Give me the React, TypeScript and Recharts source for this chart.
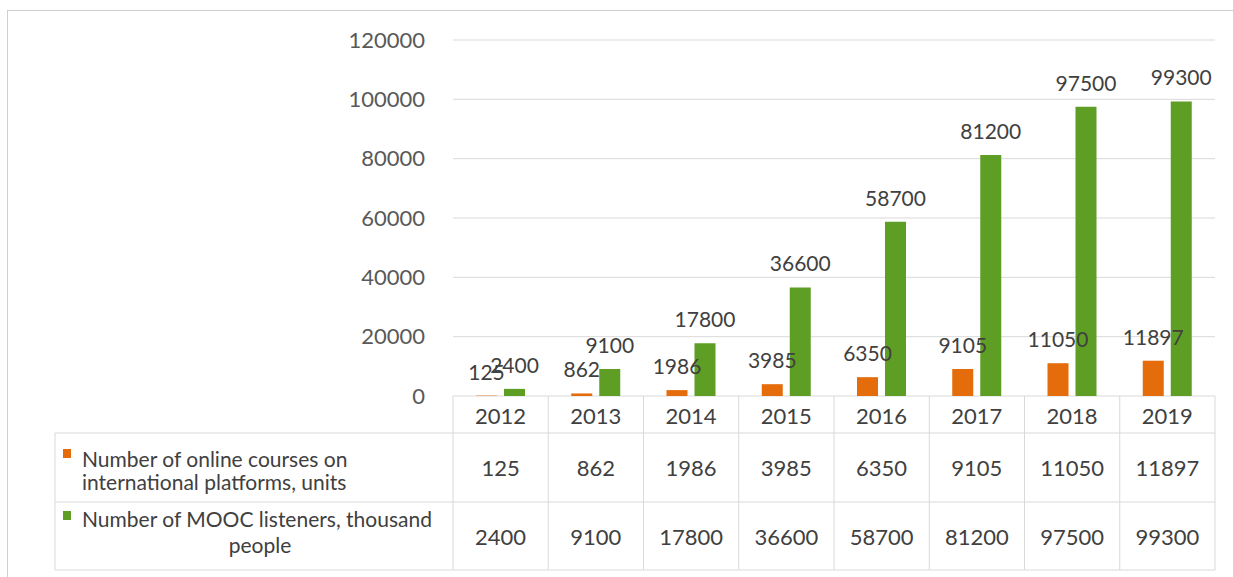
import { BarChart, Bar, XAxis, YAxis, CartesianGrid, LabelList } from 'recharts'

const YEARS = ['2012', '2013', '2014', '2015', '2016', '2017', '2018', '2019']
const COURSES = [125, 862, 1986, 3985, 6350, 9105, 11050, 11897]
const LISTENERS = [2400, 9100, 17800, 36600, 58700, 81200, 97500, 99300]
const Y_TICKS = [0, 20000, 40000, 60000, 80000, 100000, 120000]
const COURSES_LABEL = ['Number of online courses on', 'international platforms, units']
const LISTENERS_LABEL = ['Number of MOOC listeners, thousand', 'people']

const ORANGE = '#E46C0A'
const GREEN = '#5F9E24'
const GRID = '#d9d9d9'
const TEXT = '#404040'
const FONT = 'Lato, "Open Sans", sans-serif'

const W = 1233
const H = 577
const Y_WIDTH = 453
const RIGHT = 18
const X_HEIGHT = 181
const COL_W = (W - Y_WIDTH - RIGHT) / YEARS.length
const ROWS = [37, 69, 68] // header, courses, listeners
const LEGEND_LEFT = 55

const data = YEARS.map((year, i) => ({
  year,
  courses: COURSES[i],
  listeners: LISTENERS[i],
}))

// data table under the plot, one column per x tick
function TableTick(props: any) {
  const { x, y, payload, index } = props
  const left = x - COL_W / 2
  const right = x + COL_W / 2
  const r1 = y + ROWS[0]
  const r2 = r1 + ROWS[1]
  const r3 = r2 + ROWS[2]
  const vals = [COURSES[index], LISTENERS[index]]
  const last = index === YEARS.length - 1

  return (
    <g fontFamily={FONT}>
      <line x1={left} x2={left} y1={y} y2={r3} stroke={GRID} />
      {last && <line x1={right} x2={right} y1={y} y2={r3} stroke={GRID} />}
      <line x1={left} x2={right} y1={r1} y2={r1} stroke={GRID} />
      <line x1={left} x2={right} y1={r2} y2={r2} stroke={GRID} />
      <line x1={left} x2={right} y1={r3} y2={r3} stroke={GRID} />
      <text x={x} y={y + ROWS[0] / 2 + 1} textAnchor="middle" dominantBaseline="central" fontSize={22} fill={TEXT}>
        {payload.value}
      </text>
      <text x={x} y={r1 + ROWS[1] / 2} textAnchor="middle" dominantBaseline="central" fontSize={22} fill={TEXT}>
        {vals[0]}
      </text>
      <text x={x} y={r2 + ROWS[2] / 2} textAnchor="middle" dominantBaseline="central" fontSize={22} fill={TEXT}>
        {vals[1]}
      </text>

      {index === 0 && (
        <g>
          <line x1={LEGEND_LEFT} x2={left} y1={r1} y2={r1} stroke={GRID} />
          <line x1={LEGEND_LEFT} x2={left} y1={r2} y2={r2} stroke={GRID} />
          <line x1={LEGEND_LEFT} x2={left} y1={r3} y2={r3} stroke={GRID} />
          <line x1={LEGEND_LEFT} x2={LEGEND_LEFT} y1={r1} y2={r3} stroke={GRID} />

          <rect x={63} y={r1 + 16} width={8} height={9} fill={ORANGE} />
          <text x={82} y={r1 + 25} dominantBaseline="central" fontSize={21} fill={TEXT}>
            {COURSES_LABEL[0]}
          </text>
          <text x={82} y={r1 + 48} dominantBaseline="central" fontSize={21} fill={TEXT}>
            {COURSES_LABEL[1]}
          </text>

          <rect x={63} y={r2 + 9} width={8} height={9} fill={GREEN} />
          <text x={82} y={r2 + 16} dominantBaseline="central" fontSize={21} fill={TEXT}>
            {LISTENERS_LABEL[0]}
          </text>
          <text x={(LEGEND_LEFT + left) / 2 + 6} y={r2 + 42} textAnchor="middle" dominantBaseline="central" fontSize={21} fill={TEXT}>
            {LISTENERS_LABEL[1]}
          </text>
        </g>
      )}
    </g>
  )
}

export default function App() {
  return (
    <div style={{ position: 'absolute', left: 0, top: 0, width: W, height: H, background: '#fff', overflow: 'hidden' }}>
      <div style={{ position: 'absolute', left: 7, top: 10, width: W, height: H, border: '1px solid #cfcfcf' }} />
      <BarChart
        width={W}
        height={H}
        data={data}
        margin={{ top: 40, right: RIGHT, left: 0, bottom: 0 }}
        barSize={21}
        barGap={7}
        style={{ position: 'absolute', left: 0, top: 0 }}
      >
        <CartesianGrid vertical={false} stroke={GRID} />
        <XAxis
          dataKey="year"
          height={X_HEIGHT}
          axisLine={false}
          tickLine={false}
          tickSize={0}
          tickMargin={0}
          interval={0}
          tick={<TableTick />}
        />
        <YAxis
          width={Y_WIDTH}
          domain={[0, 120000]}
          ticks={Y_TICKS}
          axisLine={false}
          tickLine={false}
          tickMargin={22}
          tick={{ fontSize: 22, fill: '#595959', fontFamily: FONT }}
        />
        <Bar dataKey="courses" fill={ORANGE} isAnimationActive={false}>
          <LabelList dataKey="courses" position="top" offset={16} fontSize={21} fill={TEXT} fontFamily={FONT} />
        </Bar>
        <Bar dataKey="listeners" fill={GREEN} isAnimationActive={false}>
          <LabelList dataKey="listeners" position="top" offset={16} fontSize={21} fill={TEXT} fontFamily={FONT} />
        </Bar>
      </BarChart>
    </div>
  )
}
